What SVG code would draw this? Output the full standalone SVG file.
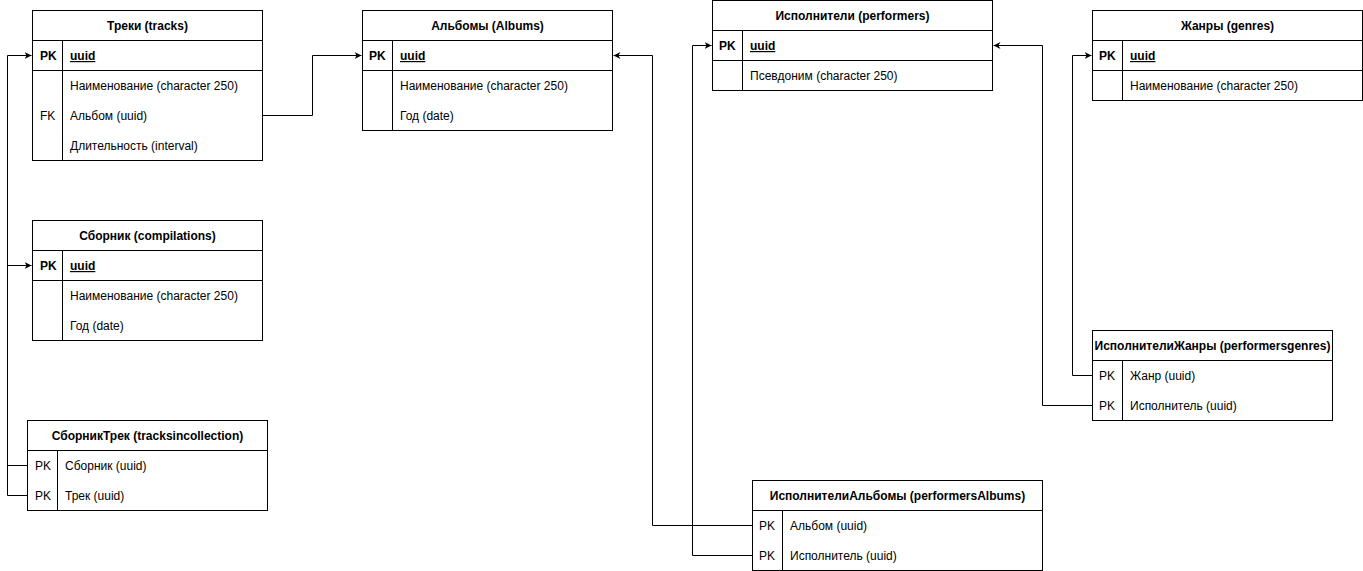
<svg xmlns="http://www.w3.org/2000/svg" width="1363" height="571" viewBox="0 0 1363 571">
<style>
text{font-family:"Liberation Sans",Arial,sans-serif;font-size:12px;fill:#000}
.h{font-weight:bold;text-anchor:middle}
.k{font-weight:bold}
.u{font-weight:bold;text-decoration:underline}
.b{fill:#fff;stroke:#000;stroke-width:1}
.l{stroke:#000;stroke-width:1;fill:none}
.c{stroke:#000;stroke-width:1;fill:none}
</style>
<defs>
<marker id="a" viewBox="0 0 10 10" refX="10" refY="5" markerWidth="7" markerHeight="7" markerUnits="userSpaceOnUse" orient="auto">
<path d="M0,0 L10,5 L0,10 L3,5 Z" fill="#000"/>
</marker>
</defs>
<rect width="1363" height="571" fill="#fff"/>
<g id="connectors">
<path class="c" d="M262.5,115.5 H312.5 V55.5 H361.5" marker-end="url(#a)"/>
<path class="c" d="M27.5,465.5 H7.5 V265.5 H31.5" marker-end="url(#a)"/>
<path class="c" d="M27.5,495.5 H7.5 V55.5 H31.5" marker-end="url(#a)"/>
<path class="c" d="M752.5,525.5 H652.5 V55.5 H613.5" marker-end="url(#a)"/>
<path class="c" d="M752.5,555.5 H692.5 V45.5 H711.5" marker-end="url(#a)"/>
<path class="c" d="M1092.5,375.5 H1072.5 V55.5 H1091.5" marker-end="url(#a)"/>
<path class="c" d="M1092.5,405.5 H1042.5 V45.5 H993.5" marker-end="url(#a)"/>
</g>
<g id="tracks">
<rect class="b" x="32.5" y="10.5" width="230" height="150"/>
<path class="l" d="M32.5,40.5 H262.5 M32.5,70.5 H262.5 M62.5,40.5 V160.5"/>
<text class="h" x="147.5" y="30">Треки (tracks)</text>
<text class="k" x="40" y="60">PK</text>
<text class="u" x="70" y="60">uuid</text>
<text x="70" y="90">Наименование (character 250)</text>
<text x="40" y="120">FK</text>
<text x="70" y="120">Альбом (uuid)</text>
<text x="70" y="150">Длительность (interval)</text>
</g>
<g id="albums">
<rect class="b" x="362.5" y="10.5" width="250" height="120"/>
<path class="l" d="M362.5,40.5 H612.5 M362.5,70.5 H612.5 M392.5,40.5 V130.5"/>
<text class="h" x="487.5" y="30">Альбомы (Albums)</text>
<text class="k" x="369" y="60">PK</text>
<text class="u" x="400" y="60">uuid</text>
<text x="400" y="90">Наименование (character 250)</text>
<text x="400" y="120">Год (date)</text>
</g>
<g id="performers">
<rect class="b" x="712.5" y="0.5" width="280" height="90"/>
<path class="l" d="M712.5,30.5 H992.5 M712.5,60.5 H992.5 M742.5,30.5 V90.5"/>
<text class="h" x="852.5" y="20">Исполнители (performers)</text>
<text class="k" x="719" y="50">PK</text>
<text class="u" x="750" y="50">uuid</text>
<text x="750" y="80">Псевдоним (character 250)</text>
</g>
<g id="genres">
<rect class="b" x="1092.5" y="10.5" width="270" height="90"/>
<path class="l" d="M1092.5,40.5 H1362.5 M1092.5,70.5 H1362.5 M1122.5,40.5 V100.5"/>
<text class="h" x="1227.5" y="30">Жанры (genres)</text>
<text class="k" x="1099" y="60">PK</text>
<text class="u" x="1130" y="60">uuid</text>
<text x="1130" y="90">Наименование (character 250)</text>
</g>
<g id="compilations">
<rect class="b" x="32.5" y="220.5" width="230" height="120"/>
<path class="l" d="M32.5,250.5 H262.5 M32.5,280.5 H262.5 M62.5,250.5 V340.5"/>
<text class="h" x="147.5" y="240">Сборник (compilations)</text>
<text class="k" x="40" y="270">PK</text>
<text class="u" x="70" y="270">uuid</text>
<text x="70" y="300">Наименование (character 250)</text>
<text x="70" y="330">Год (date)</text>
</g>
<g id="tracksincollection">
<rect class="b" x="27.5" y="420.5" width="240" height="90"/>
<path class="l" d="M27.5,450.5 H267.5 M57.5,450.5 V510.5"/>
<text class="h" x="147.5" y="440">СборникТрек (tracksincollection)</text>
<text x="35" y="470">PK</text>
<text x="65" y="470">Сборник (uuid)</text>
<text x="35" y="500">PK</text>
<text x="65" y="500">Трек (uuid)</text>
</g>
<g id="performersgenres">
<rect class="b" x="1092.5" y="330.5" width="240" height="90"/>
<path class="l" d="M1092.5,360.5 H1332.5 M1122.5,360.5 V420.5"/>
<text class="h" x="1212.5" y="350">ИсполнителиЖанры (performersgenres)</text>
<text x="1099" y="380">PK</text>
<text x="1130" y="380">Жанр (uuid)</text>
<text x="1099" y="410">PK</text>
<text x="1130" y="410">Исполнитель (uuid)</text>
</g>
<g id="performersAlbums">
<rect class="b" x="752.5" y="480.5" width="290" height="90"/>
<path class="l" d="M752.5,510.5 H1042.5 M782.5,510.5 V570.5"/>
<text class="h" x="897.5" y="500">ИсполнителиАльбомы (performersAlbums)</text>
<text x="759" y="530">PK</text>
<text x="790" y="530">Альбом (uuid)</text>
<text x="759" y="560">PK</text>
<text x="790" y="560">Исполнитель (uuid)</text>
</g>
</svg>
